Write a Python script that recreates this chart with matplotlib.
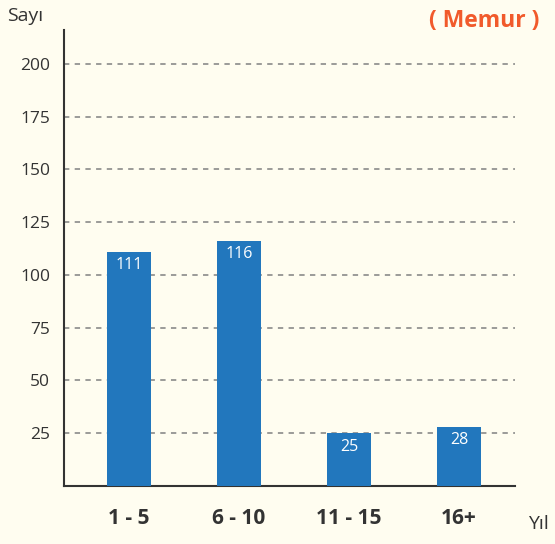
import numpy as np
import matplotlib
matplotlib.use("Agg")
import matplotlib.pyplot as plt

# Data
categories = ["1 - 5", "6 - 10", "11 - 15", "16+"]
values = [111, 116, 25, 28]
yticks = [25, 50, 75, 100, 125, 150, 175, 200]

bg = "#fffdf0"
barColor = "#2277bd"
textColor = "#333333"

fig = plt.figure(figsize=(5.55, 5.44), dpi=100, facecolor=bg)
ax = fig.add_axes([0.1153, 0.1066, 0.8127, 0.8383], facecolor=bg)

x = np.arange(len(categories))
bars = ax.bar(x, values, width=0.4, color=barColor, zorder=3)

# value labels inside bars
for b, v in zip(bars, values):
    ax.text(b.get_x() + b.get_width() / 2, v - 2.5, str(v), ha="center", va="top",
            color="white", fontsize=11.5, family="Open Sans", zorder=4)

ax.set_xlim(-0.59, 3.51)
ax.set_ylim(0, 216)
ax.set_yticks(yticks)
ax.set_yticklabels([str(t) for t in yticks], fontsize=12.5, family="Open Sans", color=textColor)
ax.set_xticks(x)
ax.set_xticklabels(categories, fontsize=15, fontweight="bold", family="Open Sans", color=textColor)
ax.tick_params(axis="both", length=0)
ax.tick_params(axis="y", pad=10)
ax.tick_params(axis="x", pad=16)

ax.yaxis.grid(True, linestyle=(0, (3.5, 3.5)), color="#808080", linewidth=1.1, zorder=0)
ax.spines["top"].set_visible(False)
ax.spines["right"].set_visible(False)
ax.spines["left"].set_color("#333333")
ax.spines["bottom"].set_color("#333333")
ax.spines["left"].set_linewidth(1.5)
ax.spines["bottom"].set_linewidth(1.5)

fig.text(7 / 555, 1 - 16 / 544, "Sayı", fontsize=14, family="Open Sans", color=textColor, va="center")
fig.text(528 / 555, 1 - 524 / 544, "Yıl", fontsize=14, family="Open Sans", color=textColor, va="center")
fig.text(484 / 555, 1 - 21 / 544, "( Memur )", fontsize=16.5, fontweight="bold", family="Open Sans",
         color="#f15a2b", ha="center", va="center")

fig.savefig("out.png", dpi=100, facecolor=bg)
